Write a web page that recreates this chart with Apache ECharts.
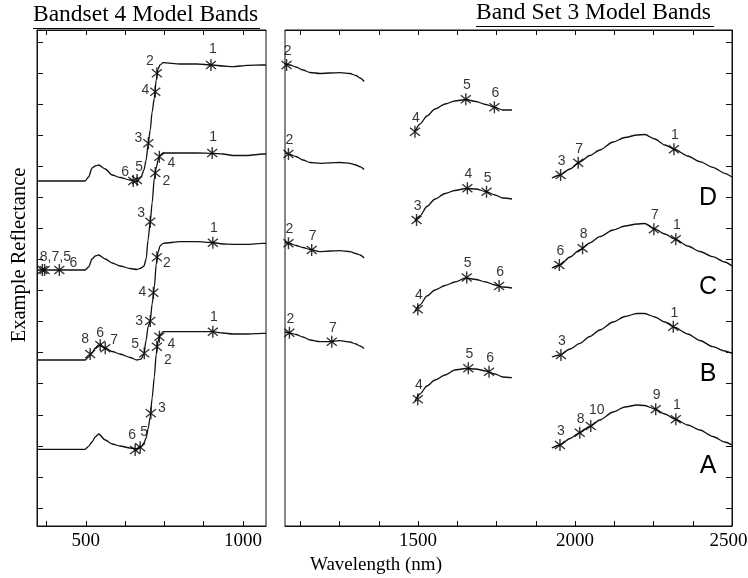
<!DOCTYPE html>
<html>
<head>
<meta charset="utf-8">
<title>Model Bands</title>
<script src="https://cdn.jsdelivr.net/npm/echarts@6.0.0/dist/echarts.min.js"></script>
<style>
  html, body { margin: 0; padding: 0; background: #fff; }
  #chart { width: 748px; height: 578px; }
</style>
</head>
<body>
<div id="chart"></div>
<script>
// ---- data (wavelength in nm, reflectance in stacked plot units) ----
var curveNames = ['D', 'C', 'B', 'A'];

// 400-1075 nm stretch (Bandset 4 panel)
var leftNm = [345, 498, 509, 520, 530, 541, 562, 584, 609, 641, 663, 676, 685, 692, 698, 705, 711, 718, 724, 730, 736, 746, 800, 854, 902, 936, 968, 1013, 1063, 1073];
var leftD = [34.5, 34.5, 34.9, 35.8, 36.0, 36.1, 35.7, 35.1, 34.85, 34.6, 34.45, 34.9, 35.6, 36.6, 38.1, 39.6, 41.4, 42.8, 44.6, 45.7, 46.1, 46.33, 46.2, 46.2, 46.1, 46.0, 45.93, 46.07, 46.1, 46.1];
var leftC = [25.6, 25.6, 25.9, 26.7, 27.0, 27.1, 26.7, 26.3, 26.0, 25.75, 25.65, 25.8, 26.0, 26.7, 28.6, 30.4, 32.3, 34.8, 35.8, 36.6, 37.05, 37.3, 37.3, 37.3, 37.27, 37.2, 37.05, 37.05, 37.2, 37.2];
var leftB = [16.6, 16.6, 16.9, 17.3, 17.8, 18.1, 17.8, 17.45, 17.2, 16.85, 16.6, 16.7, 17.2, 18.6, 19.9, 20.5, 22.2, 23.9, 26.2, 27.4, 28.0, 28.27, 28.43, 28.43, 28.35, 28.2, 28.17, 28.17, 28.27, 28.27];
var leftA = [7.67, 7.67, 7.97, 8.4, 8.9, 9.2, 8.6, 8.2, 8.0, 7.8, 7.7, 7.9, 8.3, 8.8, 9.7, 10.9, 12.8, 14.9, 17.2, 18.5, 19.1, 19.43, 19.43, 19.43, 19.43, 19.3, 19.2, 19.2, 19.27, 19.27];

// Band Set 3 panel, three stretches between the water bands
var s1Nm = [1076, 1092, 1111, 1133, 1156, 1187, 1219, 1251, 1283, 1302, 1315, 1328];
var s1D = [46.2, 46.1, 45.9, 45.6, 45.35, 45.25, 45.3, 45.33, 45.25, 45.05, 44.8, 44.45];
var s1C = [37.3, 37.15, 36.95, 36.6, 36.35, 36.27, 36.32, 36.35, 36.27, 36.1, 35.93, 35.65];
var s1B = [28.35, 28.25, 28.05, 27.85, 27.65, 27.43, 27.5, 27.53, 27.43, 27.25, 27.1, 26.8];
var s1A = [19.4, 19.3, 19.15, 18.9, 18.6, 18.43, 18.43, 18.53, 18.4, 18.2, 18.0, 17.75];

var s2Nm = [1490, 1506, 1528, 1554, 1586, 1617, 1652, 1684, 1716, 1745, 1770, 1799];
var s2D = [39.43, 40.2, 41.0, 41.7, 42.2, 42.5, 42.65, 42.45, 42.15, 41.85, 41.6, 41.6];
var s2C = [30.5, 31.0, 31.95, 32.7, 33.25, 33.55, 33.75, 33.7, 33.45, 33.1, 32.8, 32.7];
var s2B = [21.5, 22.1, 23.0, 23.6, 24.05, 24.4, 24.8, 24.65, 24.4, 24.1, 23.9, 23.8];
var s2A = [12.5, 13.2, 14.0, 14.6, 15.1, 15.6, 15.75, 15.7, 15.5, 15.2, 14.9, 14.83];

var s3Nm = [1926, 1952, 1984, 2015, 2047, 2079, 2121, 2159, 2197, 2222, 2254, 2286, 2318, 2359, 2398, 2439, 2477, 2500];
var s3D = [34.8, 35.1, 35.7, 36.4, 37.05, 37.6, 38.4, 38.85, 39.1, 39.15, 38.7, 38.1, 37.65, 37.0, 36.43, 35.87, 35.27, 34.9];
var s3C = [25.8, 26.1, 26.9, 27.6, 28.3, 28.93, 29.6, 30.0, 30.2, 30.25, 29.7, 29.2, 28.7, 28.0, 27.45, 26.93, 26.4, 26.0];
var s3B = [16.9, 17.1, 17.7, 18.27, 18.95, 19.6, 20.4, 20.95, 21.25, 21.25, 20.9, 20.4, 19.85, 19.2, 18.55, 17.93, 17.5, 17.25];
var s3A = [7.8, 8.1, 8.75, 9.33, 9.95, 10.6, 11.4, 11.9, 12.1, 12.05, 11.7, 11.2, 10.7, 10.1, 9.6, 8.95, 8.4, 8.1];

// model band positions: [nm, value, band number]
var bandsLeftD = [[651, 34.5, '6'], [663, 34.6, '5'], [699, 38.27, '3'], [721, 43.43, '4'], [726, 45.27, '2'], [898, 46.1, '1']];
var bandsLeftC = [[362, 25.6, '8,7,5'], [369, 25.6, ''], [416, 25.6, '6'], [705, 30.43, '3'], [721, 35.3, '2'], [734, 36.93, '4'], [902, 37.3, '1']];
var bandsLeftB = [[514, 17.2, '8'], [546, 18.1, '6'], [562, 17.77, '7'], [686, 17.27, '5'], [705, 20.5, '3'], [715, 23.33, '4'], [726, 26.87, '2'], [904, 28.33, '1']];
var bandsLeftA = [[657, 7.6, '6'], [673, 7.87, '5'], [707, 11.27, '3'], [726, 17.93, '2'], [734, 18.93, '4'], [904, 19.43, '1']];

var bandsRightD = [[1081, 46.1, '2'], [1490, 39.43, '4'], [1652, 42.67, '5'], [1743, 41.87, '6'], [1954, 35.1, '3'], [2010, 36.33, '7'], [2315, 37.67, '1']];
var bandsRightC = [[1087, 37.2, '2'], [1495, 30.6, '3'], [1657, 33.77, '4'], [1718, 33.43, '5'], [1950, 26.1, '6'], [2024, 27.77, '8'], [2251, 29.67, '7'], [2321, 28.67, '1']];
var bandsRightB = [[1087, 28.27, '2'], [1161, 27.6, '7'], [1499, 21.67, '4'], [1655, 24.85, '5'], [1758, 24.0, '6'], [1955, 17.1, '3'], [2313, 19.93, '1']];
var bandsRightA = [[1090, 19.33, '2'], [1225, 18.43, '7'], [1499, 12.67, '4'], [1660, 15.77, '5'], [1726, 15.43, '6'], [1952, 8.1, '3'], [2015, 9.33, '8'], [2050, 10.0, '10'], [2257, 11.67, '9'], [2321, 10.67, '1']];

var xTicksLeft = [375, 500, 625, 750, 875, 1000];
var xLabelsLeft = [500, 1000];
var xTicksRight = [1125, 1250, 1375, 1500, 1625, 1750, 1875, 2000, 2125, 2250, 2375];
var xLabelsRight = [1500, 2000, 2500];

// ---- layout / style ----
// label offsets (px) of the band numbers in the left panel, same order as above
var offLeft = {
  D: [[-8, -9], [2, -13], [-10, -5], [-10, -2], [-7, -12], [2, -16]],
  C: [[13, -13], [0, 0], [14, -7], [-9, -9], [11, 8], [12, 6], [1, -16]],
  B: [[-5, -15], [0, -12], [9, -8], [-9, -9], [-11, 0], [-11, -1], [10, 6], [1, -15]],
  A: [[-3, -15], [4, -15], [11, -5], [11, 13], [12, 7], [1, -15]]
};
var offRightDefault = [1, -14];

var yTicks = [];
for (var k = 0; k < 16; k++) yTicks.push(+(1.8 + 3.107 * k).toFixed(3));

var ink = '#111';
var serif = '"Liberation Serif", "DejaVu Serif", serif';
var sans = '"Liberation Sans", "DejaVu Sans", sans-serif';
var star = 'path://M6,0L6,12M1,2L11,10M1,10L11,2';

function pairs(xs, ys) {
  return xs.map(function (x, i) { return [x, ys[i]]; });
}

function xAxisCfg(grid, min, max, ticks, labels, pos) {
  return {
    type: 'value', gridIndex: grid, min: min, max: max, position: pos,
    axisLine: { show: true, onZero: false, lineStyle: { color: ink, width: 1 } },
    splitLine: { show: false },
    axisTick: { show: true, inside: true, length: 5, customValues: ticks, lineStyle: { color: ink } },
    axisLabel: {
      show: !!labels, customValues: labels || [], margin: 6,
      // last label sits at the frame edge, nudge it inward a little
      formatter: function (v) { return v === max ? '{e|' + v + '}' : String(v); },
      rich: { e: { padding: [0, 7, 0, 0], color: '#000', fontFamily: serif, fontSize: 19 } },
      color: '#000', fontFamily: serif, fontSize: 19
    }
  };
}

function yAxisCfg(grid, pos) {
  return {
    type: 'value', gridIndex: grid, min: 0, max: 49.6, position: pos,
    axisLine: { show: true, onZero: false, lineStyle: { color: ink, width: 1 } },
    splitLine: { show: false },
    axisTick: { show: true, inside: true, length: 6, customValues: yTicks, lineStyle: { color: ink } },
    axisLabel: { show: false }
  };
}

function lineSeries(xs, ys, xi, yi, letter) {
  var s = {
    type: 'line', xAxisIndex: xi, yAxisIndex: yi,
    data: pairs(xs, ys), showSymbol: false, smooth: 0.25, smoothMonotone: 'x',
    lineStyle: { color: ink, width: 1.3 }, silent: true, z: 2
  };
  if (letter) {
    s.endLabel = {
      show: true, formatter: letter, distance: 0, offset: [-24, 21],
      align: 'center', verticalAlign: 'middle',
      color: '#000', fontFamily: sans, fontSize: 25
    };
  }
  return s;
}

function bandSeries(list, offs, xi, yi) {
  return {
    type: 'scatter', xAxisIndex: xi, yAxisIndex: yi,
    symbol: star, symbolSize: 12, symbolKeepAspect: true,
    itemStyle: { color: 'rgba(0,0,0,0)', borderColor: '#000', borderWidth: 1.4 },
    silent: true, z: 3,
    data: list.map(function (b, i) {
      return {
        value: [b[0], b[1]],
        label: {
          show: b[2] !== '', formatter: b[2], position: 'inside',
          offset: offs ? offs[i] : (b[2] === '10' ? [6, -16] : offRightDefault),
          align: 'center', verticalAlign: 'middle',
          color: '#000', fontFamily: sans, fontSize: 14
        }
      };
    })
  };
}

var series = [];
var leftVals = { D: leftD, C: leftC, B: leftB, A: leftA };
var s1Vals = { D: s1D, C: s1C, B: s1B, A: s1A };
var s2Vals = { D: s2D, C: s2C, B: s2B, A: s2A };
var s3Vals = { D: s3D, C: s3C, B: s3B, A: s3A };
var bandsLeft = { D: bandsLeftD, C: bandsLeftC, B: bandsLeftB, A: bandsLeftA };
var bandsRight = { D: bandsRightD, C: bandsRightC, B: bandsRightB, A: bandsRightA };

curveNames.forEach(function (n) {
  series.push(lineSeries(leftNm, leftVals[n], 0, 0));
  series.push(lineSeries(s1Nm, s1Vals[n], 2, 1));
  series.push(lineSeries(s2Nm, s2Vals[n], 2, 1));
  series.push(lineSeries(s3Nm, s3Vals[n], 2, 1, n));
  series.push(bandSeries(bandsLeft[n], offLeft[n], 0, 0));
  series.push(bandSeries(bandsRight[n], null, 2, 1));
});

var chart = echarts.init(document.getElementById('chart'), null, { renderer: 'canvas' });
chart.setOption({
  animation: false,
  backgroundColor: '#fff',
  grid: [
    { left: 37, top: 30, width: 229, bottom: 52, outerBoundsMode: 'none', show: true, borderColor: ink, borderWidth: 1 },
    { left: 285, top: 30, right: 16, bottom: 52, outerBoundsMode: 'none', show: true, borderColor: ink, borderWidth: 1 }
  ],
  xAxis: [
    xAxisCfg(0, 345, 1073, xTicksLeft, xLabelsLeft, 'bottom'),
    xAxisCfg(0, 345, 1073, xTicksLeft, null, 'top'),
    xAxisCfg(1, 1076, 2500, xTicksRight, xLabelsRight, 'bottom'),
    xAxisCfg(1, 1076, 2500, xTicksRight, null, 'top')
  ],
  yAxis: [yAxisCfg(0, 'left'), yAxisCfg(1, 'right')],
  series: series,
  graphic: [
    { type: 'text', x: 33, y: 27, style: { text: 'Bandset 4 Model Bands', font: '23.5px ' + serif, fill: '#000', textAlign: 'left', textVerticalAlign: 'bottom' } },
    { type: 'line', shape: { x1: 33, y1: 28.5, x2: 260, y2: 28.5 }, style: { stroke: '#000', lineWidth: 1.2 } },
    { type: 'text', x: 476, y: 25, style: { text: 'Band Set 3 Model Bands', font: '23.5px ' + serif, fill: '#000', textAlign: 'left', textVerticalAlign: 'bottom' } },
    { type: 'line', shape: { x1: 476, y1: 26.5, x2: 714, y2: 26.5 }, style: { stroke: '#000', lineWidth: 1.2 } },
    { type: 'text', x: 20, y: 255, rotation: Math.PI / 2, style: { text: 'Example Reflectance', font: '20.5px ' + serif, fill: '#000', textAlign: 'center', textVerticalAlign: 'middle' } },
    { type: 'text', x: 376, y: 565, style: { text: 'Wavelength (nm)', font: '19px ' + serif, fill: '#000', textAlign: 'center', textVerticalAlign: 'middle' } }
  ]
});
</script>
</body>
</html>
